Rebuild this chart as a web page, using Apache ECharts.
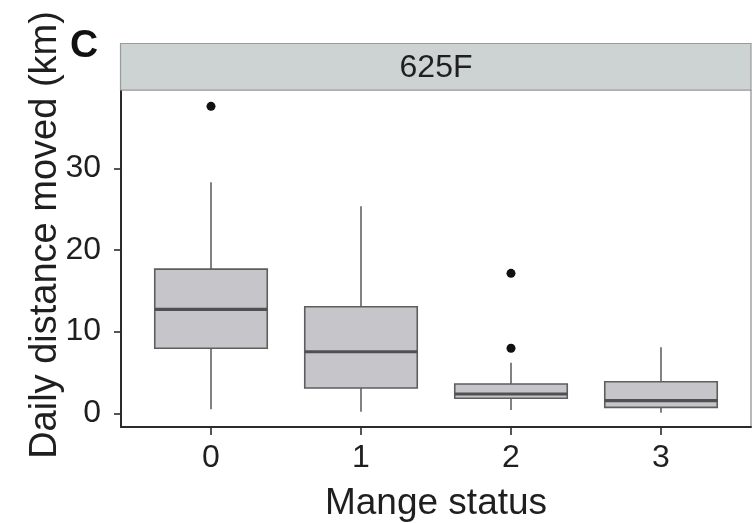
<!DOCTYPE html>
<html>
<head>
<meta charset="utf-8">
<script src="https://cdn.jsdelivr.net/npm/echarts@6/dist/echarts.min.js"></script>
<style>
  html, body { margin: 0; padding: 0; background: #ffffff; }
  #chart { width: 752px; height: 523px; }
</style>
</head>
<body>
<div id="chart"></div>
<script>
// Mange status groups and daily movement summaries (km) for animal 625F
const categories = ['0', '1', '2', '3'];
const whiskerLow = [0.49, 0.2, 0.4, 0.07];
const q1 = [7.96, 3.1, 1.84, 0.73];
const median = [12.73, 7.54, 2.36, 1.54];
const q3 = [17.66, 13.05, 3.59, 3.87];
const whiskerHigh = [28.3, 25.37, 6.19, 8.08];
// outlying days: [group index, km]
const outliers = [[0, 37.6], [2, 17.14], [2, 7.96]];
const yTicks = [0, 10, 20, 30];
const panelLabel = '625F';

const FONT = '"Liberation Sans", Arial, Helvetica, sans-serif';
const TEXT = '#1f1f1f';

const boxData = categories.map((c, i) => [i, whiskerLow[i], q1[i], median[i], q3[i], whiskerHigh[i]]);

function renderBox(params, api) {
  const x = api.value(0);
  const pLow = api.coord([x, api.value(1)]);
  const pQ1 = api.coord([x, api.value(2)]);
  const pMed = api.coord([x, api.value(3)]);
  const pQ3 = api.coord([x, api.value(4)]);
  const pHigh = api.coord([x, api.value(5)]);
  const w = api.size([0.75, 0])[0];
  const cx = pMed[0];
  const lineStyle = { stroke: '#626262', lineWidth: 1.6 };
  return {
    type: 'group',
    children: [
      { type: 'line', shape: { x1: cx, y1: pQ3[1], x2: cx, y2: pHigh[1] }, style: lineStyle },
      { type: 'line', shape: { x1: cx, y1: pQ1[1], x2: cx, y2: pLow[1] }, style: lineStyle },
      { type: 'rect', shape: { x: cx - w / 2, y: pQ3[1], width: w, height: pQ1[1] - pQ3[1] },
        style: { fill: '#c6c5ca', stroke: '#5e5e5e', lineWidth: 1.6 } },
      { type: 'line', shape: { x1: cx - w / 2, y1: pMed[1], x2: cx + w / 2, y2: pMed[1] },
        style: { stroke: '#505050', lineWidth: 3.2 } }
    ]
  };
}

const chart = echarts.init(document.getElementById('chart'), null, { renderer: 'canvas' });
chart.setOption({
  animation: false,
  backgroundColor: '#ffffff',
  grid: {
    left: 121, right: 1, top: 90, bottom: 96,
    outerBoundsMode: 'none',
    containLabel: false,
    show: true, borderColor: '#8a8a8a', borderWidth: 1.2, backgroundColor: '#ffffff'
  },
  xAxis: {
    type: 'value',
    min: -0.6, max: 3.6,
    axisLine: { show: true, onZero: false, lineStyle: { color: '#2b2b2b', width: 2 } },
    axisTick: { show: true, customValues: [0, 1, 2, 3], length: 8, lineStyle: { color: '#2b2b2b', width: 1.6 } },
    axisLabel: {
      customValues: [0, 1, 2, 3],
      formatter: v => categories[Math.round(v)],
      margin: 15, fontSize: 32, color: TEXT, fontFamily: FONT
    },
    splitLine: { show: false },
    name: 'Mange status',
    nameLocation: 'middle',
    nameGap: 58,
    nameTextStyle: { fontSize: 37, color: TEXT, fontFamily: FONT }
  },
  yAxis: {
    type: 'value',
    min: -1.68, max: 39.6,
    axisLine: { show: true, onZero: false, lineStyle: { color: '#2b2b2b', width: 2 } },
    axisTick: { show: true, customValues: yTicks, length: 7, lineStyle: { color: '#2b2b2b', width: 1.6 } },
    axisLabel: {
      customValues: yTicks,
      margin: 20, fontSize: 32, color: TEXT, fontFamily: FONT
    },
    splitLine: { show: false }
  },
  graphic: [
    {
      type: 'rect', z: 10,
      shape: { x: 120.5, y: 43.5, width: 630.5, height: 46.5 },
      style: { fill: '#cdd3d2', stroke: '#9a9a9a', lineWidth: 1.2 }
    },
    {
      type: 'text', z: 11,
      style: {
        text: panelLabel, x: 436, y: 68, align: 'center', verticalAlign: 'middle',
        font: '32px ' + FONT, fill: TEXT
      }
    },
    {
      type: 'text', z: 11,
      style: {
        text: 'C', x: 70, y: 46, align: 'left', verticalAlign: 'middle',
        font: 'bold 39px ' + FONT, fill: '#111111'
      }
    },
    {
      type: 'text', z: 11,
      x: 46, y: 235, rotation: Math.PI / 2,
      style: {
        text: 'Daily distance moved (km)', x: 0, y: 0, align: 'center', verticalAlign: 'middle',
        font: '38px ' + FONT, fill: TEXT
      }
    }
  ],
  series: [
    {
      type: 'custom',
      name: 'Daily distance',
      renderItem: renderBox,
      encode: { x: 0, y: [1, 2, 3, 4, 5] },
      data: boxData,
      z: 2
    },
    {
      type: 'scatter',
      name: 'Outliers',
      data: outliers,
      symbol: 'circle',
      symbolSize: 9,
      itemStyle: { color: '#111111', opacity: 1 },
      z: 3
    }
  ]
});
</script>
</body>
</html>
